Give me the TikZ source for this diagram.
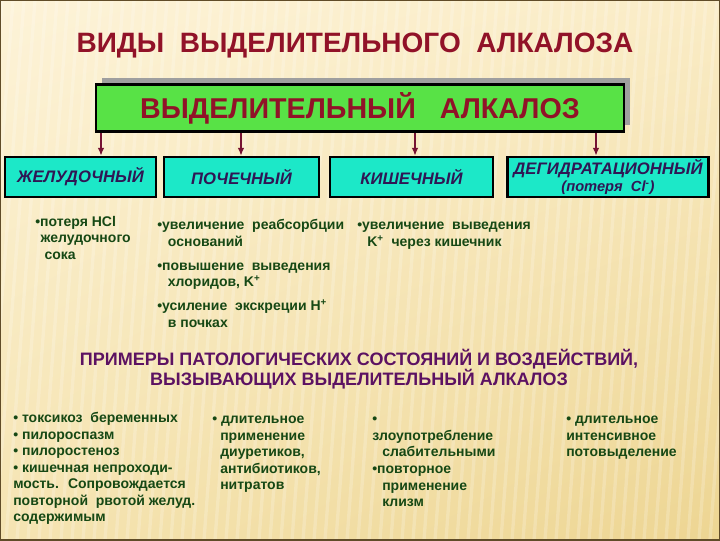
\documentclass[tikz,border=0pt]{standalone}
\usepackage{fontspec}
\setmainfont{Liberation Sans}
\usepackage{tikz}
\usetikzlibrary{arrows.meta}
\usetikzlibrary{shadows}
\usetikzlibrary{shadings}
\usepackage{xcolor}
\definecolor{ColBgA}{RGB}{253,243,216}
\definecolor{ColBgB}{RGB}{250,236,198}
\definecolor{ColBgC}{RGB}{245,228,178}
\definecolor{ColBgD}{RGB}{237,213,146}
\definecolor{ColFrame}{RGB}{96,76,40}
\definecolor{ColTitle}{RGB}{145,18,40}
\definecolor{ColGreen}{RGB}{88,226,70}
\definecolor{ColCyan}{RGB}{28,232,200}
\definecolor{ColType}{RGB}{48,22,84}
\definecolor{ColText}{RGB}{22,72,20}
\definecolor{ColHead}{RGB}{92,18,98}
\definecolor{ColArrow}{RGB}{118,18,50}
\tikzstyle{MainBox}=[draw=black,fill=ColGreen,line width=2.2pt,minimum width=396pt,
minimum height=35pt,general shadow={fill=gray!75,shadow xshift=4.5pt,shadow yshift=5pt},
text=ColTitle,font=\fontsize{21.5}{24}\selectfont\bfseries]
\tikzstyle{TypeBox}=[draw=black,fill=ColCyan,line width=1.8pt,minimum height=30pt,
align=center,inner sep=1pt,text=ColType,font=\fontsize{12.5}{12.5}\selectfont\bfseries\itshape]
\tikzstyle{BodyText}=[anchor=north west,align=left,inner sep=0pt,text=ColText,
font=\fontsize{10.5}{12.4}\selectfont\bfseries]
\tikzstyle{Link}=[ColArrow,line width=1.6pt,-{Latex[length=6pt,width=5pt]}]

\begin{document}
\begin{tikzpicture}[x=0.75pt,y=-0.75pt]
        \useasboundingbox(0,0)rectangle(720,540);
        % background
        \shade[upper left=ColBgA,upper right=ColBgB,lower left=ColBgC,lower right=ColBgD](0,0)rectangle(720,540);
        \begin{scope}
            \clip(0,0)rectangle(720,540);
            \foreach \x in {-60,-49,...,760}
                \draw[white,opacity=0.2,line width=2.5pt](\x+40,0)--(\x,540);
        \end{scope}
        \draw[ColFrame,line width=1.5pt](0,0)rectangle(720,540);
        % headings
        \node[text=ColTitle,font=\fontsize{21}{24}\selectfont\bfseries](title)at(355,46){ВИДЫ~ ВЫДЕЛИТЕЛЬНОГО~ АЛКАЛОЗА};
        \node[MainBox](main)at(360,108){ВЫДЕЛИТЕЛЬНЫЙ~~ АЛКАЛОЗ};
        % types
        \node[TypeBox,minimum width=113pt](zh)at(80.5,177){ЖЕЛУДОЧНЫЙ};
        \node[TypeBox,minimum width=116pt](poch)at(241.5,177){ПОЧЕЧНЫЙ};
        \node[TypeBox,minimum width=122pt](kish)at(411.5,177){КИШЕЧНЫЙ};
        \node[TypeBox,minimum width=151pt](deg)at(608,177){ДЕГИДРАТАЦИОННЫЙ\\{\fontsize{11}{11}\selectfont(потеря~ Cl\textsuperscript{-})}};
        \coordinate(p1)at(101,0);
        \coordinate(p2)at(241,0);
        \coordinate(p3)at(415,0);
        \coordinate(p4)at(596,0);
        \draw[Link](main.south -| p1)--(zh.north -| p1);
        \draw[Link](main.south -| p2)--(poch.north -| p2);
        \draw[Link](main.south -| p3)--(kish.north -| p3);
        \draw[Link](main.south -| p4)--(deg.north -| p4);
        % mechanisms
        \node[BodyText](zhtext)at(35,216){\textbullet потеря HCl\\\hspace*{4pt}желудочного\\\hspace*{7pt}сока};
        \node[BodyText](pochtext)at(157,219){\textbullet увеличение~ реабсорбции\\\hspace*{8pt}оснований\\[5.6pt]
            \textbullet повышение~ выведения\\\hspace*{8pt}хлоридов, K\textsuperscript{+}\\[5.6pt]
            \textbullet усиление~ экскреции H\textsuperscript{+}\\\hspace*{8pt}в почках};
        \node[BodyText](kishtext)at(357,222){\textbullet увеличение~ выведения\\\hspace*{7.5pt}K\textsuperscript{+}~ через кишечник};
        % examples
        \node[text=ColHead,align=center,font=\fontsize{13.5}{15}\selectfont\bfseries](examples)at(359,369)
            {ПРИМЕРЫ ПАТОЛОГИЧЕСКИХ СОСТОЯНИЙ И ВОЗДЕЙСТВИЙ,\\ВЫЗЫВАЮЩИХ ВЫДЕЛИТЕЛЬНЫЙ АЛКАЛОЗ};
        \node[BodyText](exa)at(13,412){\textbullet{} токсикоз~ беременных\\\textbullet{} пилороспазм\\
            \textbullet{} пилоростеноз\\\textbullet{} кишечная непроходи-\\мость.~ Сопровождается\\
            повторной~ рвотой желуд.\\содержимым};
        \node[BodyText](exb)at(212,416){\textbullet{} длительное\\\hspace*{6pt}применение\\\hspace*{6pt}диуретиков,\\
            \hspace*{6pt}антибиотиков,\\\hspace*{6pt}нитратов};
        \node[BodyText](exc)at(372,414){\textbullet\vphantom{Б}\\злоупотребление\\\hspace*{7.5pt}слабительными\\
            \textbullet повторное\\\hspace*{7.5pt}применение\\\hspace*{7.5pt}клизм};
        \node[BodyText](exd)at(566,416){\textbullet{} длительное\\интенсивное\\потовыделение};
    \end{tikzpicture}
\end{document}
